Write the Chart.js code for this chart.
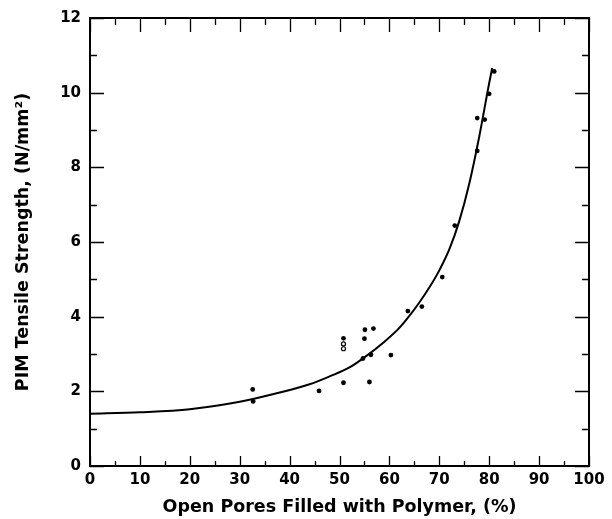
<!DOCTYPE html>
<html>
<head>
<meta charset="utf-8">
<script src="https://cdn.jsdelivr.net/npm/chart.js@4.4.0/dist/chart.umd.min.js"></script>
<style>
html,body{margin:0;padding:0;background:#fff;}
#wrap{width:612px;height:519px;position:relative;}
</style>
</head>
<body>
<div id="wrap"><canvas id="c" width="612" height="519"></canvas></div>
<script>
// Measured points (filled)
const poresX = [32.6, 32.7, 45.9, 50.8, 50.8, 55.1, 56.8, 55.0, 54.7, 56.3, 60.3, 56.0, 63.7, 66.5, 70.6, 73.1, 77.6, 77.6, 79.1, 80.0, 81.0];
const strengthY = [2.05, 1.73, 2.01, 2.23, 3.42, 3.65, 3.68, 3.41, 2.88, 2.98, 2.97, 2.25, 4.15, 4.27, 5.06, 6.44, 8.44, 9.32, 9.28, 9.97, 10.57];
// Measured points (open)
const openX = [50.8, 50.8];
const openY = [3.27, 3.14];
// Fitted curve
const curveX = [0, 10, 20, 30, 36, 44, 48, 52, 55, 59, 62, 64, 66, 68, 70, 72, 74, 76, 78, 80, 80.6];
const curveY = [1.40, 1.44, 1.52, 1.72, 1.90, 2.19, 2.40, 2.64, 2.91, 3.33, 3.70, 4.02, 4.38, 4.78, 5.24, 5.80, 6.56, 7.56, 8.82, 10.26, 10.66];
// Ticks
const xTicks = [0, 10, 20, 30, 40, 50, 60, 70, 80, 90, 100];
const xMinor = [5, 15, 25, 35, 45, 55, 65, 75, 85, 95];
const yTicks = [0, 2, 4, 6, 8, 10, 12];
const yMinor = [1, 3, 5, 7, 9, 11];

const toXY = (xs, ys) => xs.map((x, i) => ({x: x, y: ys[i]}));

const FONT = "'DejaVu Sans', 'Liberation Sans', Arial, sans-serif";

const framePlugin = {
  id: 'frame',
  afterDraw(chart) {
    const ctx = chart.ctx;
    const a = chart.chartArea;
    const xs = chart.scales.x, ys = chart.scales.y;
    ctx.save();
    ctx.strokeStyle = '#000';
    ctx.lineWidth = 2;
    ctx.strokeRect(a.left, a.top, a.right - a.left, a.bottom - a.top);
    ctx.lineWidth = 1.3;
    ctx.beginPath();
    xTicks.forEach(v => {
      const p = Math.round(xs.getPixelForValue(v)) + 0.5;
      ctx.moveTo(p, a.bottom); ctx.lineTo(p, a.bottom - 10);
      ctx.moveTo(p, a.top); ctx.lineTo(p, a.top + 14);
    });
    xMinor.forEach(v => {
      const p = Math.round(xs.getPixelForValue(v)) + 0.5;
      ctx.moveTo(p, a.bottom); ctx.lineTo(p, a.bottom - 5);
      ctx.moveTo(p, a.top); ctx.lineTo(p, a.top + 7);
    });
    yTicks.forEach(v => {
      const p = Math.round(ys.getPixelForValue(v)) + 0.5;
      ctx.moveTo(a.left, p); ctx.lineTo(a.left + 14, p);
      ctx.moveTo(a.right, p); ctx.lineTo(a.right - 14, p);
    });
    yMinor.forEach(v => {
      const p = Math.round(ys.getPixelForValue(v)) + 0.5;
      ctx.moveTo(a.left, p); ctx.lineTo(a.left + 7, p);
      ctx.moveTo(a.right, p); ctx.lineTo(a.right - 7, p);
    });
    ctx.stroke();
    ctx.restore();
  }
};

new Chart(document.getElementById('c'), {
  type: 'scatter',
  data: {
    datasets: [
      {
        type: 'line',
        data: toXY(curveX, curveY),
        borderColor: '#000',
        borderWidth: 2,
        pointRadius: 0,
        fill: false,
        cubicInterpolationMode: 'monotone'
      },
      {
        data: toXY(poresX, strengthY),
        backgroundColor: '#000',
        borderColor: '#000',
        pointRadius: 2.4,
        borderWidth: 0
      },
      {
        data: toXY(openX, openY),
        backgroundColor: '#fff',
        borderColor: '#000',
        pointRadius: 2,
        borderWidth: 1.2
      }
    ]
  },
  options: {
    responsive: false,
    animation: false,
    events: [],
    layout: {padding: {left: 0, right: 23, top: 12, bottom: 0}},
    plugins: {legend: {display: false}, tooltip: {enabled: false}},
    scales: {
      x: {
        type: 'linear',
        min: 0, max: 100,
        afterFit(s) { s.height = 53; },
        afterBuildTicks(s) { s.ticks = xTicks.map(v => ({value: v})); },
        grid: {display: false, drawTicks: false},
        border: {display: false},
        ticks: {
          color: '#000',
          padding: 5,
          maxRotation: 0,
          font: {family: FONT, size: 15, weight: 'bold'}
        },
        title: {
          display: true,
          text: 'Open Pores Filled with Polymer, (%)',
          color: '#000',
          padding: {top: 0, bottom: 1},
          font: {family: FONT, size: 17.5, weight: 'bold'}
        }
      },
      y: {
        type: 'linear',
        min: 0, max: 12,
        afterFit(s) { s.width = 90; },
        afterBuildTicks(s) { s.ticks = yTicks.map(v => ({value: v})); },
        grid: {display: false, drawTicks: false},
        border: {display: false},
        ticks: {
          color: '#000',
          padding: 9,
          font: {family: FONT, size: 15, weight: 'bold'}
        },
        title: {
          display: true,
          text: 'PIM Tensile Strength, (N/mm²)',
          color: '#000',
          padding: {top: 13, bottom: 0},
          font: {family: FONT, size: 17.5, weight: 'bold'}
        }
      }
    }
  },
  plugins: [framePlugin]
});
</script>
</body>
</html>
